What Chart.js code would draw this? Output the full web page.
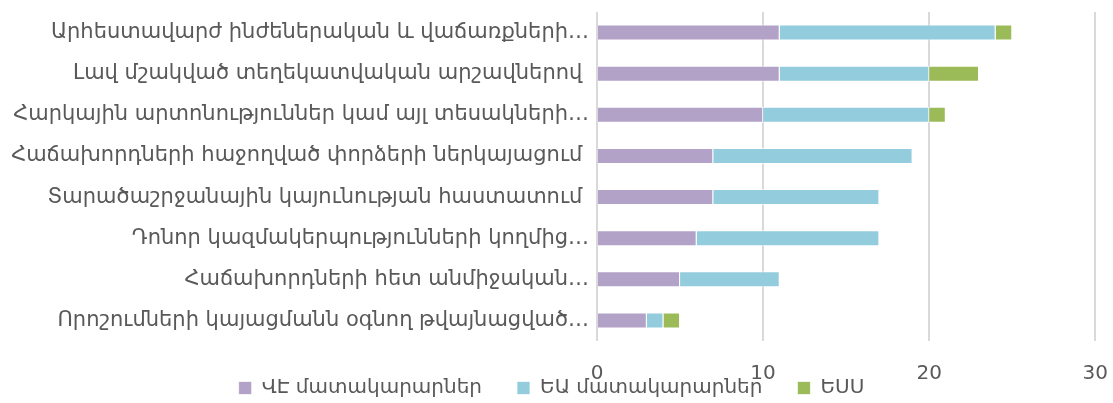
<!DOCTYPE html>
<html>
<head>
<meta charset="utf-8">
<script src="https://cdn.jsdelivr.net/npm/chart.js@4/dist/chart.umd.min.js"></script>
<style>
  html, body { margin: 0; padding: 0; background: #fff; }
  #wrap { width: 1113px; height: 403px; position: relative; }
</style>
</head>
<body>
<div id="wrap"><canvas id="chart"></canvas></div>
<script>
const categories = [
  "Արհեստավարժ ինժեներական և վաճառքների…",
  "Լավ մշակված տեղեկատվական արշավներով ",
  "Հարկային արտոնություններ կամ այլ տեսակների…",
  "Հաճախորդների հաջողված փորձերի ներկայացում ",
  "Տարածաշրջանային կայունության հաստատում ",
  "Դոնոր կազմակերպությունների կողմից…",
  "Հաճախորդների հետ անմիջական…",
  "Որոշումների կայացմանն օգնող թվայնացված…"
];
const veSuppliers = [11, 11, 10, 7, 7, 6, 5, 3];
const euSuppliers = [13, 9, 10, 12, 10, 11, 6, 1];
const usaValues = [1, 3, 1, 0, 0, 0, 0, 1];
const seriesNames = ["ՎԷ մատակարարներ", "ԵԱ մատակարարներ", "ԵՍՍ"];
const xTicks = [0, 10, 20, 30];

const textColor = '#595959';
const fontFamily = "'DejaVu Sans', sans-serif";

// Excel puts the legend right under the tick labels (they nearly overlap),
// so move the legend box up after layout instead of giving it its own band
const legendLift = {
  id: 'legendLift',
  afterLayout(chart) {
    const lg = chart.legend;
    if (!lg) return;
    const pad = lg.options.labels.padding;
    lg.top = chart.chartArea.bottom + 37 - pad;
    lg.bottom = chart.height;
    lg.height = lg.bottom - lg.top;
  }
};

new Chart("chart", {
  type: 'bar',
  data: {
    labels: categories,
    datasets: [
      { label: seriesNames[0], data: veSuppliers, backgroundColor: '#B3A2C7' },
      { label: seriesNames[1], data: euSuppliers, backgroundColor: '#93CDDD' },
      { label: seriesNames[2], data: usaValues, backgroundColor: '#9BBB59' }
    ]
  },
  plugins: [legendLift],
  options: {
    indexAxis: 'y',
    responsive: true,
    maintainAspectRatio: false,
    animation: false,
    datasets: {
      bar: {
        categoryPercentage: 1,
        barPercentage: 0.39,
        borderWidth: 1,
        borderColor: 'rgba(255,255,255,0.7)'
      }
    },
    layout: { padding: { top: 12, right: 14, left: 4, bottom: -5 } },
    plugins: {
      legend: {
        position: 'bottom',
        maxHeight: 1,
        labels: {
          color: textColor,
          font: { family: fontFamily, size: 20 },
          boxWidth: 13,
          boxHeight: 13,
          padding: 35
        }
      },
      tooltip: { enabled: false }
    },
    scales: {
      x: {
        stacked: true,
        min: 0,
        max: 30,
        afterBuildTicks: (scale) => { scale.ticks = xTicks.map(v => ({ value: v })); },
        grid: { color: '#D9D9D9', lineWidth: 2, drawTicks: false },
        border: { display: false },
        ticks: { color: textColor, font: { family: fontFamily, size: 20, lineHeight: 2.8 }, padding: 5 }
      },
      y: {
        stacked: true,
        afterFit: (scale) => { scale.width = 593; },
        grid: { display: false },
        border: { display: false },
        ticks: { color: textColor, font: { family: fontFamily, size: 21, lineHeight: 1 }, padding: 0, autoSkip: false }
      }
    }
  }
});
</script>
</body>
</html>
